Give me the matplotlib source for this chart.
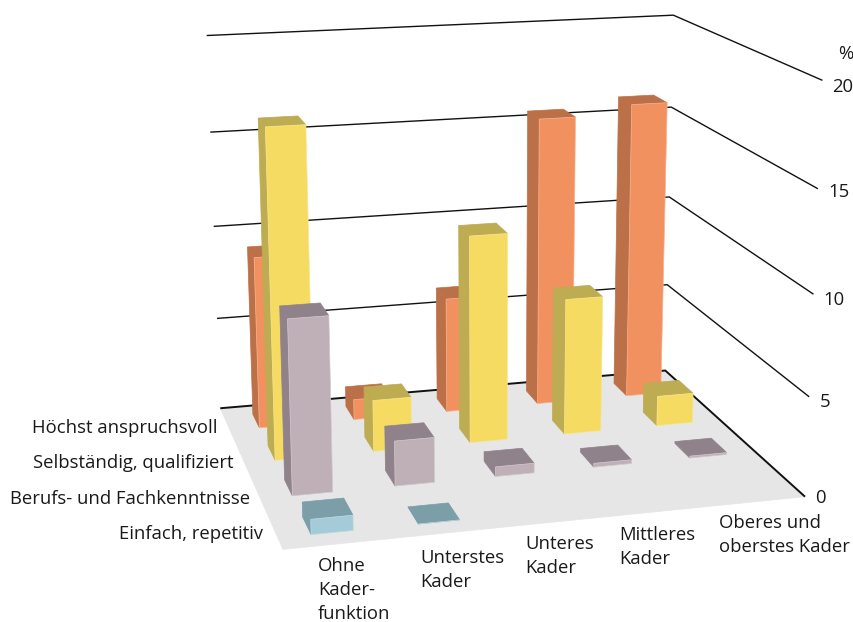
import numpy as np
import matplotlib
matplotlib.use("Agg")
import matplotlib.pyplot as plt
from matplotlib.colors import to_rgb
from matplotlib.patches import Polygon

plt.rcParams['font.family'] = ['Open Sans', 'DejaVu Sans']

# categories
kader = ["Ohne\nKader-\nfunktion", "Unterstes\nKader", "Unteres\nKader", "Mittleres\nKader", "Oberes und\noberstes Kader"]
niveau = ["Einfach, repetitiv", "Berufs- und Fachkenntnisse", "Selbständig, qualifiziert", "Höchst anspruchsvoll"]
z_ticks = [0, 5, 10, 15, 20]

# percent values per skill level, None means no bar at all
einfach = [0.75, 0.0, None, None, None]
berufs = [8.8, 2.3, 0.5, 0.2, 0.1]
selbst = [16.9, 2.7, 10.85, 7.2, 1.6]
hoechst = [9.15, 1.1, 6.2, 15.5, 16.0]
values = [einfach, berufs, selbst, hoechst]

# (front, side/top) colours for each row
front_colors = ["#A5CBD9", "#BFB0B7", "#F5DB62", "#F29160"]
side_colors = ["#7C9EA8", "#90828A", "#BDAC52", "#BC7048"]

BAR_W = 0.39
BAR_D = 0.44
BAR_Y = 0.275   # gap between cell front edge and bar

# corners of the chart box (x, y, z) and where they land on the page
box_world = np.array([
    [0, 4, 0], [0, 4, 5], [0, 4, 10], [0, 4, 15], [0, 4, 20],
    [5, 4, 0], [5, 4, 15], [5, 4, 20],
    [5, 0, 0], [5, 0, 5], [5, 0, 15], [5, 0, 20],
    [0, 0, 0],
], dtype=float)
box_page = np.array([
    [220.5, 408.5], [217, 319], [213.5, 226], [210, 132], [207, 35.5],
    [665, 370], [672, 107], [673, 15.5],
    [804.5, 497], [810, 397], [818, 189], [822, 80],
    [283, 549],
], dtype=float)


def fit_camera(world, page):
    # plain DLT, gives a 3x4 perspective matrix
    rows = []
    for (x, y, z), (u, v) in zip(world, page):
        rows.append([x, y, z, 1, 0, 0, 0, 0, -u*x, -u*y, -u*z, -u])
        rows.append([0, 0, 0, 0, x, y, z, 1, -v*x, -v*y, -v*z, -v])
    _, _, vt = np.linalg.svd(np.array(rows))
    return vt[-1].reshape(3, 4)


camera = fit_camera(box_world, box_page)


def project(points):
    pts = np.column_stack([np.asarray(points, dtype=float), np.ones(len(points))])
    uvw = pts @ camera.T
    return uvw[:, :2] / uvw[:, 2:]


def lighter(color, amount=0.3):
    return tuple(c + (1 - c)*amount for c in to_rgb(color))


def add_face(ax, points, color, zorder, edge=None):
    ax.add_patch(Polygon(project(points), closed=True, facecolor=color,
                         edgecolor=edge or color, linewidth=0.5, zorder=zorder))


def draw_bar(ax, col, row, height, front, side, zorder):
    x0 = col + 0.5 - BAR_W/2
    x1 = x0 + BAR_W
    y0 = row + BAR_Y
    y1 = y0 + BAR_D
    add_face(ax, [(x0, y0, 0), (x0, y1, 0), (x0, y1, height), (x0, y0, height)], side, zorder)
    add_face(ax, [(x0, y0, height), (x0, y1, height), (x1, y1, height), (x1, y0, height)], side, zorder)
    add_face(ax, [(x0, y0, 0), (x1, y0, 0), (x1, y0, height), (x0, y0, height)], front, zorder,
             edge=lighter(front))


fig = plt.figure(figsize=(8.54, 6.22), dpi=100)
ax = fig.add_axes([0, 0, 1, 1])
ax.set_xlim(0, 854)
ax.set_ylim(622, 0)
ax.axis('off')

# floor
add_face(ax, [(0, 0, 0), (5, 0, 0), (5, 4, 0), (0, 4, 0)], "#E6E6E6", 1)

# grid lines on the two walls
for z in z_ticks:
    line = project([(0, 4, z), (5, 4, z), (5, 0, z)])
    ax.plot(line[:, 0], line[:, 1], color="#111111", lw=1.4 if z == 0 else 1.0, zorder=2,
            solid_joinstyle='miter', solid_capstyle='butt')

# bars, back row first and right to left inside each row
order = 3
for row in range(3, -1, -1):
    for col in range(4, -1, -1):
        val = values[row][col]
        if val is None:
            continue
        draw_bar(ax, col, row, val, front_colors[row], side_colors[row], order)
        order += 1

txt = dict(fontsize=13.3, color="#1a1a1a", va='baseline', zorder=100)

# value axis
tick_x = [826, 830, 845, 850, 853]
tick_y = [503, 407, 305, 197, 92]
for z, x, y in zip(z_ticks, tick_x, tick_y):
    ax.text(x, y, str(z), ha='right', **txt)
ax.text(853, 59, "%", ha='right', **txt)

# skill level labels
row_x = [263, 250, 234, 218]
row_y = [539, 504, 468, 433]
for name, x, y in zip(niveau, row_x, row_y):
    ax.text(x, y, name, ha='right', **txt)

# column labels
col_x = [318, 420, 525, 619, 719]
col_y = [571, 563, 549, 540, 528]
for name, x, y in zip(kader, col_x, col_y):
    for i, part in enumerate(name.split("\n")):
        ax.text(x, y + i*24, part, ha='left', **txt)

fig.savefig("out.png", dpi=100)
